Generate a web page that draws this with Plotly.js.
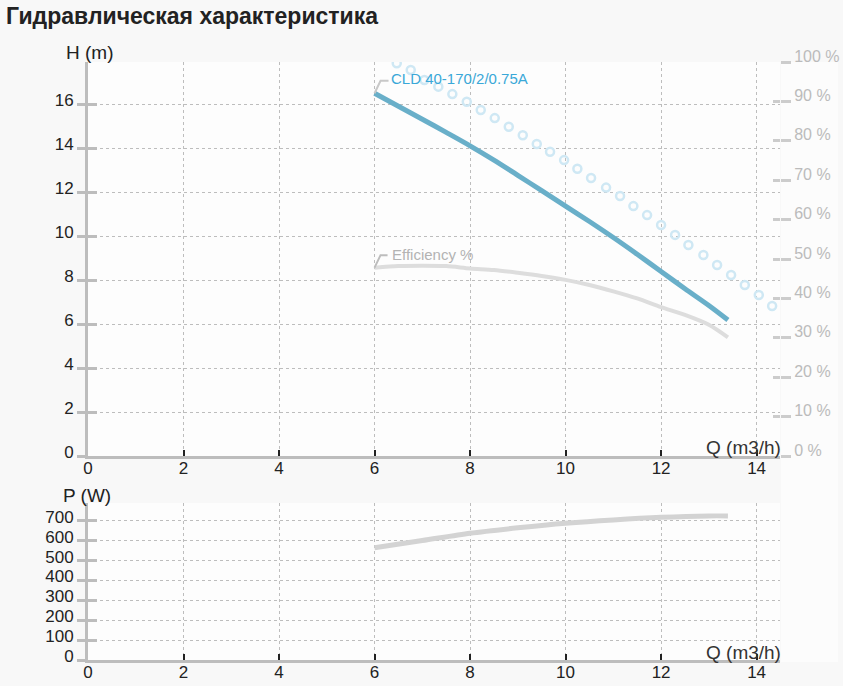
<!DOCTYPE html>
<html><head><meta charset="utf-8">
<script src="https://cdn.plot.ly/plotly-3.0.1.min.js"></script>
<style>html,body{margin:0;padding:0;background:#f8f8f8;}#chart{width:843px;height:686px;}</style>
</head><body><div id="chart"></div>
<script>
// ---- data ----
const flowQ   = [6, 6.5, 7, 7.5, 8, 8.5, 9, 9.5, 10, 10.5, 11, 11.5, 12, 12.5, 13, 13.4];
const headH   = [16.49, 15.9, 15.31, 14.71, 14.1, 13.45, 12.76, 12.06, 11.36, 10.66, 9.93, 9.17, 8.39, 7.6, 6.84, 6.18];
const effPct  = [47.8, 48.2, 48.3, 48.2, 47.6, 47.2, 46.5, 45.7, 44.7, 43.4, 41.8, 40.0, 37.8, 35.8, 33.3, 30.1];
const powerQ  = [6, 7, 8, 9, 10, 11, 12, 13, 13.4];
const powerW  = [565, 601, 638, 665, 688, 705, 718, 725, 725];
const circleQ = [6.465, 6.758, 7.043, 7.336, 7.629, 7.931, 8.224, 8.517, 8.811, 9.104, 9.397, 9.675, 9.969, 10.247,
                 10.534, 10.848, 11.141, 11.42, 11.707, 12.0, 12.293, 12.572, 12.886, 13.173, 13.466, 13.753, 14.046, 14.325];
const circleH = [17.85, 17.55, 17.09, 16.79, 16.45, 16.10, 15.73, 15.36, 14.97, 14.58, 14.18, 13.83, 13.45, 13.06,
                 12.64, 12.20, 11.82, 11.36, 10.95, 10.50, 10.05, 9.59, 9.14, 8.68, 8.23, 7.77, 7.32, 6.82];
const xTicks     = [0, 2, 4, 6, 8, 10, 12, 14];
const headTicks  = [0, 2, 4, 6, 8, 10, 12, 14, 16];
const pctTicks   = [0, 10, 20, 30, 40, 50, 60, 70, 80, 90, 100];
const powerTicks = [0, 100, 200, 300, 400, 500, 600, 700];
const curveName  = 'CLD 40-170/2/0.75A';
const effName    = 'Efficiency %';
const chartTitle = 'Гидравлическая характеристика';

// ---- layout helpers ----
const W = 843, H = 686;
const fx = p => p / W;
const fy = p => 1 - p / H;
const FONT = 'Liberation Sans, Arial, sans-serif';
const xDom = [fx(88), fx(780)];
const topDom = [fy(456), fy(62)];
const botDom = [fy(660), fy(503)];
const xRange = [0, 14.49];
const headRange = [0, 17.91];
const pctRange = [0, 100];
const powRange = [0, 790];

function xAxis(anchor) {
  return {domain: xDom, anchor: anchor, range: xRange, tickvals: xTicks, ticktext: xTicks.map(String),
    showline: true, linecolor: '#bdbdbd', linewidth: 3, ticks: 'inside', ticklen: 6, tickwidth: 2, tickcolor: '#222',
    showgrid: true, gridcolor: '#bdbdbd', griddash: 'dot', gridwidth: 1, zeroline: false, ticklabelstandoff: -5,
    tickfont: {family: FONT, size: 17, color: '#222'}, fixedrange: true};
}
function leftAxis(dom, range, vals, anchor) {
  return {domain: dom, anchor: anchor, range: range, tickvals: vals, ticktext: vals.map(String),
    showline: true, linecolor: '#bdbdbd', linewidth: 3, ticks: 'outside', ticklen: 8, tickwidth: 3, tickcolor: '#bdbdbd',
    showgrid: true, gridcolor: '#bdbdbd', griddash: 'dot', gridwidth: 1, zeroline: false, ticklabelshift: -4,
    tickfont: {family: FONT, size: 17, color: '#222'}, fixedrange: true};
}
function innerTicks(over, range, vals, side, len, color) {
  return {overlaying: over, side: side, range: range, tickvals: vals, showticklabels: false,
    ticks: 'inside', ticklen: len, tickwidth: 3, tickcolor: color, showline: false, showgrid: false, zeroline: false, fixedrange: true};
}

const traces = [
  {x: flowQ, y: effPct, xaxis: 'x', yaxis: 'y2', mode: 'lines', line: {color: '#dddddd', width: 4, shape: 'spline', smoothing: 0.8}, hoverinfo: 'skip'},
  {x: circleQ, y: circleH, xaxis: 'x', yaxis: 'y', mode: 'markers',
    marker: {symbol: 'circle-open', size: 8, color: '#cfe8f4', line: {width: 2.5}}, hoverinfo: 'skip'},
  {x: flowQ, y: headH, xaxis: 'x', yaxis: 'y', mode: 'lines', line: {color: '#69afc9', width: 5, shape: 'spline', smoothing: 0.8}, hoverinfo: 'skip'},
  {x: powerQ, y: powerW, xaxis: 'x2', yaxis: 'y4', mode: 'lines', line: {color: '#d3d3d3', width: 5, shape: 'spline', smoothing: 0.8}, hoverinfo: 'skip'},
  // carriers for the overlay tick axes (invisible)
  {x: flowQ, y: headH, xaxis: 'x', yaxis: 'y3', mode: 'lines', opacity: 0, hoverinfo: 'skip'},
  {x: powerQ, y: powerW, xaxis: 'x2', yaxis: 'y5', mode: 'lines', opacity: 0, hoverinfo: 'skip'},
  {x: flowQ, y: effPct, xaxis: 'x', yaxis: 'y6', mode: 'lines', opacity: 0, hoverinfo: 'skip'}
];

const layout = {
  width: W, height: H, margin: {l: 0, r: 0, t: 0, b: 0},
  paper_bgcolor: '#f8f8f8', plot_bgcolor: '#fdfdfd', showlegend: false, hovermode: false,
  font: {family: FONT},
  xaxis: xAxis('y'),
  xaxis2: xAxis('y4'),
  yaxis: leftAxis(topDom, headRange, headTicks, 'x'),
  yaxis2: {overlaying: 'y', side: 'right', anchor: 'x', range: pctRange, tickvals: pctTicks,
    ticktext: pctTicks.map(v => v + ' %'), ticks: 'outside', ticklen: 10, tickwidth: 3, tickcolor: '#cccccc',
    showline: false, showgrid: false, zeroline: false, ticklabelshift: -6,
    tickfont: {family: FONT, size: 16, color: '#bbbbbb'}, fixedrange: true},
  yaxis3: innerTicks('y', headRange, headTicks, 'left', 9, '#bdbdbd'),
  yaxis4: leftAxis(botDom, powRange, powerTicks, 'x2'),
  yaxis5: innerTicks('y4', powRange, powerTicks, 'left', 9, '#bdbdbd'),
  yaxis6: innerTicks('y', pctRange, pctTicks, 'right', 7, '#cccccc'),
  shapes: [
    {type: 'rect', xref: 'paper', yref: 'paper', x0: fx(781), x1: fx(838), y0: fy(662), y1: fy(62),
      fillcolor: '#fcfcfc', line: {width: 0}, layer: 'below'},
    {type: 'path', xref: 'x', yref: 'y', xsizemode: 'pixel', ysizemode: 'pixel', xanchor: flowQ[0], yanchor: headH[0],
      path: 'M0,0 L6,12.5 L14,12.5', line: {color: '#c8c8c8', width: 2}},
    {type: 'path', xref: 'x', yref: 'y2', xsizemode: 'pixel', ysizemode: 'pixel', xanchor: flowQ[0], yanchor: effPct[0],
      path: 'M0,0 L6,12.5 L13,12.5', line: {color: '#bdbdbd', width: 2}}
  ],
  annotations: [
    {text: '<b>' + chartTitle + '</b>', xref: 'paper', yref: 'paper', x: fx(4), y: fy(16), xanchor: 'left', yanchor: 'middle',
      showarrow: false, font: {family: FONT, size: 23, color: '#222'}},
    {text: 'H (m)', xref: 'paper', yref: 'paper', x: fx(64), y: fy(53), xanchor: 'left', yanchor: 'middle',
      showarrow: false, font: {family: FONT, size: 19, color: '#222'}},
    {text: 'P (W)', xref: 'paper', yref: 'paper', x: fx(61), y: fy(495), xanchor: 'left', yanchor: 'middle',
      showarrow: false, font: {family: FONT, size: 19, color: '#222'}},
    {text: 'Q (m3/h)', xref: 'paper', yref: 'paper', x: fx(783), y: fy(447), xanchor: 'right', yanchor: 'middle',
      showarrow: false, font: {family: FONT, size: 19, color: '#333'}},
    {text: 'Q (m3/h)', xref: 'paper', yref: 'paper', x: fx(783), y: fy(652), xanchor: 'right', yanchor: 'middle',
      showarrow: false, font: {family: FONT, size: 19, color: '#333'}},
    {text: curveName, xref: 'x', yref: 'y', x: flowQ[0], y: headH[0], xanchor: 'left', yanchor: 'middle',
      xshift: 14, yshift: 15, showarrow: false, font: {family: FONT, size: 15, color: '#3aa8d8'}},
    {text: effName, xref: 'x', yref: 'y2', x: flowQ[0], y: effPct[0], xanchor: 'left', yanchor: 'middle',
      xshift: 15, yshift: 13, showarrow: false, font: {family: FONT, size: 15, color: '#b3b3b3'}}
  ]
};

Plotly.newPlot('chart', traces, layout, {staticPlot: true, displayModeBar: false});
</script>
</body></html>
